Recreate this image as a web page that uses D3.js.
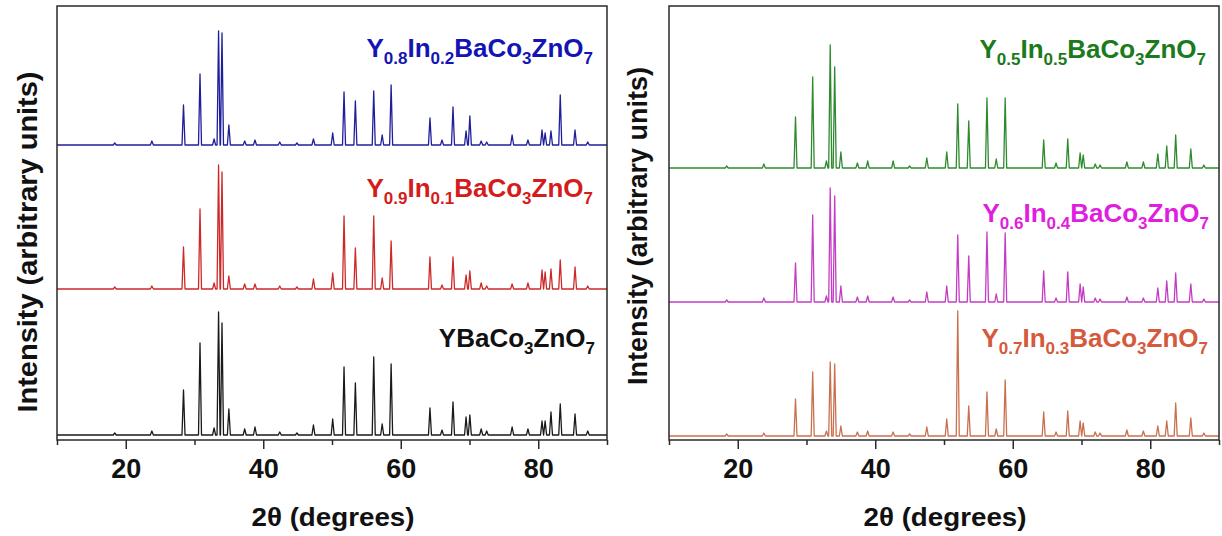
<!DOCTYPE html>
<html>
<head>
<meta charset="utf-8">
<script src="https://cdn.jsdelivr.net/npm/d3@7"></script>
<style>
  body { margin: 0; background: #fff; }
  text { font-family: "Liberation Sans", Arial, sans-serif; font-weight: bold; }
</style>
</head>
<body>
<div class="chart"></div>
<script>
// peak positions (2theta, degrees)
var leftPeaks  = [18.4, 23.8, 28.4, 30.8, 32.85, 33.5, 34.0, 35.0, 37.3, 38.8, 42.4, 44.9, 47.3, 50.1, 51.75, 53.4, 56.07, 57.3, 58.6, 64.25, 66.0, 67.6, 69.5, 70.05, 71.7, 72.5, 76.2, 78.5, 80.55, 81.0, 81.85, 83.2, 85.35, 87.2];
var rightPeaks = [18.4, 23.8, 28.4, 30.9, 32.9, 33.45, 34.1, 35.0, 37.4, 38.9, 42.6, 45.0, 47.5, 50.4, 52.0, 53.6, 56.25, 57.6, 58.9, 64.5, 66.3, 68.0, 69.8, 70.25, 72.0, 72.7, 76.6, 79.0, 81.1, 82.4, 83.7, 85.9, 87.8];

// peak intensities (arbitrary units)
var y10Heights  = [2, 4, 45, 92, 7, 123, 112, 26, 6, 8, 3, 2, 10, 16, 68, 52, 78, 11, 71, 27, 5, 33, 18, 20, 6, 4, 8, 6, 14, 14, 23, 31, 21, 4];
var y09Heights  = [2, 3, 42, 80, 6, 124, 117, 13, 5, 5, 3, 2, 10, 16, 73, 41, 73, 11, 48, 32, 4, 32, 14, 18, 6, 3, 5, 6, 19, 17, 20, 29, 22, 3];
var y08Heights  = [2, 4, 40, 71, 6, 114, 112, 20, 4, 5, 3, 2, 6, 12, 53, 44, 54, 10, 60, 27, 5, 38, 14, 29, 4, 3, 10, 5, 15, 12, 14, 50, 15, 3];
var y05Heights  = [2, 4, 51, 91, 7, 123, 101, 16, 5, 7, 7, 2, 10, 16, 64, 47, 70, 9, 70, 28, 5, 29, 15, 13, 4, 3, 6, 6, 14, 22, 33, 19, 3];
var y06Heights  = [2, 4, 39, 87, 6, 114, 106, 16, 5, 6, 5, 2, 10, 16, 67, 46, 70, 8, 69, 31, 4, 30, 18, 15, 4, 3, 5, 4, 14, 21, 29, 18, 3];
var y07Heights  = [2, 3, 37, 64, 5, 74, 72, 10, 4, 5, 4, 2, 9, 17, 125, 30, 44, 7, 56, 24, 4, 25, 15, 13, 4, 3, 6, 5, 10, 15, 33, 18, 3];

var xTicks = [20, 40, 60, 80];
var xMinorTicks = [10, 30, 50, 70, 90];

// name parts: [text, isSubscript]
var y10Name = [["YBaCo", 0], ["3", 1], ["ZnO", 0], ["7", 1]];
var y09Name = [["Y", 0], ["0.9", 1], ["In", 0], ["0.1", 1], ["BaCo", 0], ["3", 1], ["ZnO", 0], ["7", 1]];
var y08Name = [["Y", 0], ["0.8", 1], ["In", 0], ["0.2", 1], ["BaCo", 0], ["3", 1], ["ZnO", 0], ["7", 1]];
var y05Name = [["Y", 0], ["0.5", 1], ["In", 0], ["0.5", 1], ["BaCo", 0], ["3", 1], ["ZnO", 0], ["7", 1]];
var y06Name = [["Y", 0], ["0.6", 1], ["In", 0], ["0.4", 1], ["BaCo", 0], ["3", 1], ["ZnO", 0], ["7", 1]];
var y07Name = [["Y", 0], ["0.7", 1], ["In", 0], ["0.3", 1], ["BaCo", 0], ["3", 1], ["ZnO", 0], ["7", 1]];

var svg = d3.select(".chart")
  .append("svg")
    .attr("width", 1222)
    .attr("height", 536);

var panels = [
  { left: 57, right: 607, titleX: 28, titleY: 242, titleLen: 341, peaks: leftPeaks,
    series: [
      { h: y10Heights, off: 5,   color: "#1a1a1a", textColor: "#111",    name: y10Name, lx: 595, ly: 347 },
      { h: y09Heights, off: 151, color: "#cc2a2a", textColor: "#d41c1c", name: y09Name, lx: 593, ly: 197 },
      { h: y08Heights, off: 295, color: "#1f1f9a", textColor: "#1414b4", name: y08Name, lx: 593, ly: 57 }
    ] },
  { left: 669, right: 1219, titleX: 638, titleY: 226, titleLen: 318, peaks: rightPeaks,
    series: [
      { h: y07Heights, off: 4,   color: "#c9704f", textColor: "#d55a3c", name: y07Name, lx: 1208, ly: 347 },
      { h: y06Heights, off: 138, color: "#c43cc4", textColor: "#e01ee0", name: y06Name, lx: 1209, ly: 222 },
      { h: y05Heights, off: 272, color: "#2f8a2f", textColor: "#1b7a1b", name: y05Name, lx: 1206, ly: 58 }
    ] }
];

var plotTop = 6, plotBottom = 440, hw = 0.22;

var y = d3.scaleLinear()
  .domain([0, plotBottom - plotTop])
  .range([plotBottom, plotTop]);

panels.forEach(function(p) {
  var x = d3.scaleLinear()
    .domain([10, 90])
    .range([p.left, p.right]);

  var line = d3.line()
    .x(function(d) { return x(d[0]); })
    .y(function(d) { return y(d[1]); });

  p.series.forEach(function(s) {
    // baseline between peaks, one spike per peak
    var pts = [[10, s.off]];
    p.peaks.forEach(function(pk, i) {
      pts.push([pk - hw, s.off], [pk, s.off + s.h[i]], [pk + hw, s.off]);
    });
    pts.push([90, s.off]);

    svg.append("path")
      .datum(pts)
      .attr("fill", "none")
      .attr("stroke", s.color)
      .attr("stroke-width", 1.3)
      .attr("stroke-linejoin", "round")
      .attr("d", line);

    var t = svg.append("text")
      .attr("x", s.lx)
      .attr("y", s.ly)
      .attr("text-anchor", "end")
      .attr("fill", s.textColor)
      .style("font-size", "26px");
    var low = false;
    s.name.forEach(function(part) {
      var ts = t.append("tspan").text(part[0]);
      if (part[1]) {
        ts.style("font-size", "17px").attr("dy", low ? 0 : 7);
        low = true;
      } else {
        ts.attr("dy", low ? -7 : 0);
        low = false;
      }
    });
  });

  // frame
  svg.append("rect")
    .attr("x", p.left)
    .attr("y", plotTop)
    .attr("width", p.right - p.left)
    .attr("height", plotBottom - plotTop)
    .attr("fill", "none")
    .attr("stroke", "#2a2a2a")
    .attr("stroke-width", 1.5);

  var xaxis = d3.axisBottom(x)
    .tickValues(xTicks)
    .tickSize(9)
    .tickPadding(10)
    .tickFormat(d3.format("d"));
  var xminor = d3.axisBottom(x)
    .tickValues(xMinorTicks)
    .tickSize(5)
    .tickFormat("");

  var gx = svg.append("g")
    .attr("transform", "translate(0," + plotBottom + ")")
    .call(xaxis);
  gx.select(".domain").remove();
  gx.selectAll("line").attr("stroke", "#2a2a2a").attr("stroke-width", 1.5);
  gx.selectAll("text")
    .attr("fill", "#111")
    .style("font-size", "27px")
    .style("font-family", "'Liberation Sans', Arial, sans-serif")
    .style("font-weight", "bold");

  var gm = svg.append("g")
    .attr("transform", "translate(0," + plotBottom + ")")
    .call(xminor);
  gm.select(".domain").remove();
  gm.selectAll("line").attr("stroke", "#2a2a2a").attr("stroke-width", 1.5);

  svg.append("text")
    .attr("x", (p.left + p.right) / 2 + 1)
    .attr("y", 526)
    .attr("text-anchor", "middle")
    .attr("fill", "#111")
    .attr("textLength", 163)
    .attr("lengthAdjust", "spacingAndGlyphs")
    .style("font-size", "26px")
    .text("2\u03B8 (degrees)");

  svg.append("text")
    .attr("transform", "translate(" + (p.titleX + 9) + "," + p.titleY + ") rotate(-90)")
    .attr("text-anchor", "middle")
    .attr("fill", "#111")
    .attr("textLength", p.titleLen)
    .attr("lengthAdjust", "spacingAndGlyphs")
    .style("font-size", "27px")
    .text("Intensity (arbitrary units)");
});
</script>
</body>
</html>
